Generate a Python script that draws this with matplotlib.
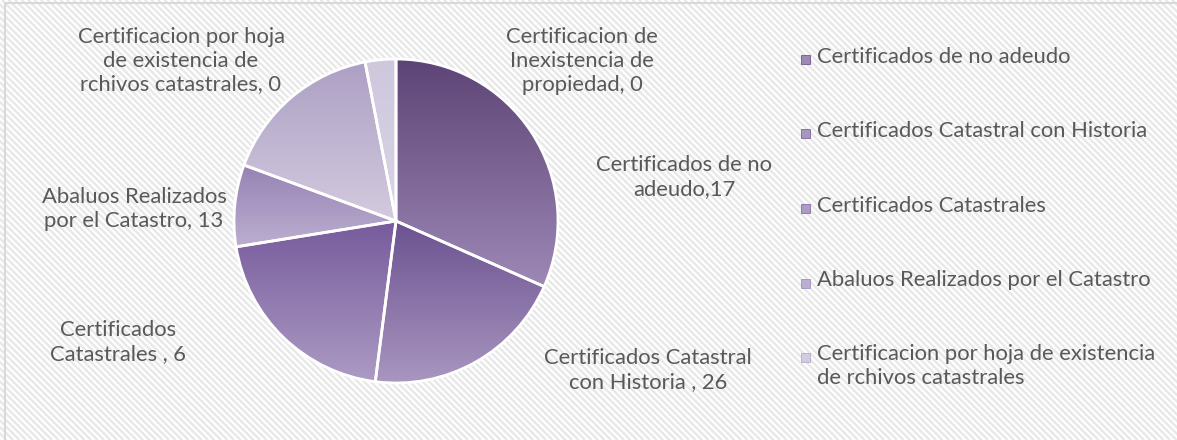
import numpy as np
import matplotlib
matplotlib.use("Agg")
import matplotlib.pyplot as plt
from matplotlib.patches import Rectangle
from matplotlib.collections import LineCollection
from matplotlib.colors import to_rgb

values = [31, 20, 20, 8, 16, 3]

# data labels exactly as printed on the chart
data_labels = [
    "Certificados de no\nadeudo,17",
    "Certificados Catastral\ncon Historia , 26",
    "Certificados\nCatastrales , 6",
    "Abaluos Realizados\npor el Catastro, 13",
    "Certificacion por hoja\nde existencia de\nrchivos catastrales, 0",
    "Certificacion de\nInexistencia de\npropiedad, 0",
]

legend_labels = [
    "Certificados de no adeudo",
    "Certificados Catastral con Historia",
    "Certificados Catastrales",
    "Abaluos Realizados por el Catastro",
    "Certificacion por hoja de existencia\nde rchivos catastrales",
]

# gradient colours per slice (top, bottom)
grad_colors = [
    ("#5d4476", "#9d88b6"),
    ("#6b5290", "#a996c0"),
    ("#775b9c", "#ac9bc4"),
    ("#9683b4", "#bcaed0"),
    ("#ad9fc4", "#d3cbdf"),
    ("#cfc8dd", "#dad4e5"),
]

W, H = 1177, 440
text_color = "#595959"
font = "Lato"
fs = 15.8

fig = plt.figure(figsize=(W / 100, H / 100), dpi=100)

# background: diagonal stripes + light border, in pixel coordinates
bgax = fig.add_axes([0, 0, 1, 1], zorder=-5)
bgax.set_xlim(0, W)
bgax.set_ylim(H, 0)
bgax.axis("off")
starts = np.arange(-H, W + 10, 6.5)
segs = [[(x0, 0), (x0 + H, H)] for x0 in starts]
bgax.add_collection(LineCollection(segs, colors="#e8e8e8", linewidths=1.7))
bgax.plot([5, 5, W + 5], [H + 5, 3, 3], color="#d9d9d9", lw=1.5)

# pie axes: centre (396, 221) px, radius 162 px
cx, cy, r = 396, 221, 162
ax = fig.add_axes([(cx - r) / W, (H - cy - r) / H, 2 * r / W, 2 * r / H])
wedges, _ = ax.pie(values, startangle=90, counterclock=False, radius=1,
                   wedgeprops=dict(edgecolor="white", linewidth=2.0, clip_on=False))

grad = np.linspace(0, 1, 256)[:, None, None]
for w, (c0, c1) in zip(wedges, grad_colors):
    a, b = np.array(to_rgb(c0)), np.array(to_rgb(c1))
    img = a + (b - a) * grad
    ext = w.get_path().get_extents()
    im = ax.imshow(img, extent=[ext.x0, ext.x1, ext.y0, ext.y1], origin="upper",
                   aspect="auto", interpolation="bilinear", zorder=1)
    im.set_clip_path(w)
    w.set_facecolor("none")
    w.set_zorder(2)

ax.set_xlim(-1.0, 1.0)
ax.set_ylim(-1.0, 1.0)
ax.axis("off")

# data label centres in pixels
label_pos = [(684, 177), (648, 370), (118, 342), (134, 209), (181, 61), (582, 61)]
for txt, (px, py) in zip(data_labels, label_pos):
    fig.text(px / W, 1 - py / H, txt, ha="center", va="center", multialignment="center",
             fontsize=fs, color=text_color, family=font, linespacing=1.22)

# legend
leg_rows = [60, 134, 209, 283, 357]
for i, (name, py) in enumerate(zip(legend_labels, leg_rows)):
    c0, c1 = grad_colors[i]
    sq = Rectangle((801 / W, 1 - (py + 4.5) / H), 9 / W, 9 / H, transform=fig.transFigure,
                   facecolor=c1, edgecolor=c0, linewidth=0.5)
    fig.patches.append(sq)
    fig.text(817 / W, 1 - (py - 13) / H, name, ha="left", va="top",
             fontsize=fs, color=text_color, family=font, linespacing=1.22)

fig.savefig("out.png", dpi=100)
